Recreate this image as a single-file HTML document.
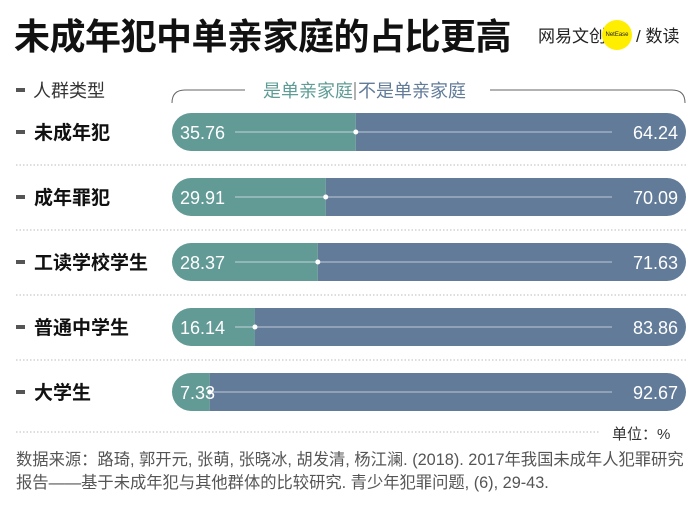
<!DOCTYPE html>
<html><head><meta charset="utf-8"><style>
body{margin:0;width:700px;height:505px;background:#fff;font-family:"Liberation Sans","Noto Sans CJK SC",sans-serif;position:relative;overflow:hidden}
.t{position:absolute;white-space:nowrap}
</style></head><body>
<div class="t" style="left:14px;top:8px;font-size:36px;font-weight:bold;color:#111;letter-spacing:-0.5px">未成年犯中单亲家庭的占比更高</div>
<div class="t" style="left:538px;top:22px;font-size:17px;color:#222">网易文创<span style="display:inline-block;width:30px;height:30px;border-radius:50%;background:#ffee00;vertical-align:middle;margin:-6px 4px 0 -4px;font-size:6px;line-height:30px;text-align:center">NetEase</span>/ 数读</div>
<svg id="c" width="700" height="505" style="position:absolute;left:0;top:0"></svg>
<div class="t" style="left:612px;top:423px;font-size:15px;color:#333">单位：%</div>
<div class="t" style="left:16px;top:449px;font-size:16.3px;line-height:23px;color:#555">数据来源：路琦, 郭开元, 张萌, 张晓冰, 胡发清, 杨江澜. (2018). 2017年我国未成年人犯罪研究<br>报告——基于未成年犯与其他群体的比较研究. 青少年犯罪问题, (6), 29-43.</div>
<script>
const categories=["未成年犯","成年罪犯","工读学校学生","普通中学生","大学生"];
const singleParent=[35.76,29.91,28.37,16.14,7.33];
const notSingle=[64.24,70.09,71.63,83.86,92.67];
const NS="http://www.w3.org/2000/svg";
const svg=document.getElementById('c');
const x0=172,x1=686,bh=38;
const xs=v=>x0+(x1-x0)*v/100;
const yc=i=>132+i*65;
function mk(t,a,p){const e=document.createElementNS(NS,t);for(const k in a)e.setAttribute(k,a[k]);(p||svg).appendChild(e);return e;}
let hd=mk('rect',{x:16,y:88,width:9,height:4,fill:'#555'});

let ht=mk('text',{x:33,y:97,'font-size':18,fill:'#333'});ht.textContent='人群类型';

let br=mk('path',{d:'M172,103 Q172,90 185,90 L245,90 M490,90 L672,90 Q685,90 685,103',fill:'none',stroke:'#666','stroke-width':1});

let l1=mk('text',{x:353,y:97,'font-size':18,fill:'#5f9c96','text-anchor':'end'});l1.textContent='是单亲家庭';

mk('line',{x1:355,y1:82,x2:355,y2:100,stroke:'#666'});
let l2=mk('text',{x:358,y:97,'font-size':18,fill:'#627b99'});l2.textContent='不是单亲家庭';

let cp=mk('clipPath',{id:'cp'});
categories.forEach((c,i)=>{
 const y=yc(i);
 mk('rect',{x:x0,y:y-bh/2,width:x1-x0,height:bh,rx:19},cp);
});
categories.forEach((c,i)=>{
 const y=yc(i),xb=xs(singleParent[i]);
 let m=mk('rect',{x:16,y:y-2,width:9,height:4,fill:'#555'});
 
 let lt=mk('text',{x:34,y:y+7,'font-size':19,'font-weight':'bold',fill:'#111'});lt.textContent=c;
 
 let g=mk('g',{'clip-path':'url(#cp)'});
 let a=mk('rect',{x:x0,y:y-bh/2,width:xb-x0,height:bh,fill:'#629a96'},g);
 
 let b=mk('rect',{x:xb,y:y-bh/2,width:xs(singleParent[i]+notSingle[i])-xb,height:bh,fill:'#627b99'},g);
 
 mk('line',{x1:Math.min(235,xb),y1:y,x2:612,y2:y,stroke:'#fff','stroke-opacity':0.6,'stroke-width':1});
 mk('circle',{cx:xb,cy:y,r:2.5,fill:'#fff'});
 let v1=mk('text',{x:180,y:y+7,'font-size':18,fill:'#fff'});v1.textContent=singleParent[i].toFixed(2);
 
 let v2=mk('text',{x:678,y:y+7,'font-size':18,fill:'#fff','text-anchor':'end'});v2.textContent=notSingle[i].toFixed(2);
 
 if(i<categories.length-1){let s=mk('line',{x1:16,y1:y+33,x2:686,y2:y+33,stroke:'#bbb','stroke-dasharray':'1.5,2'});
 }
});
let ax=mk('line',{x1:16,y1:432,x2:600,y2:432,stroke:'#bbb','stroke-dasharray':'1.5,2'});

</script>
</body></html>
